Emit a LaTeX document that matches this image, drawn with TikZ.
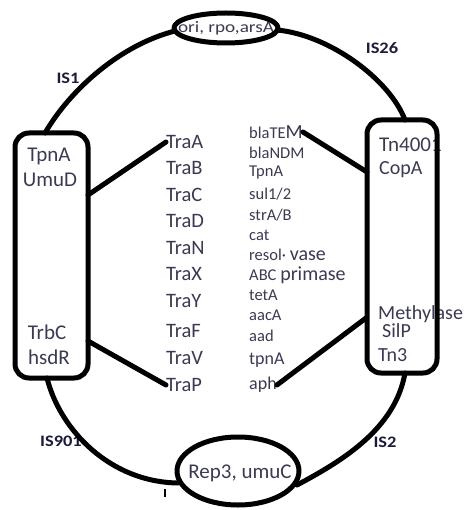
\documentclass[tikz,border=0pt]{standalone}
\usepackage{fontspec}
\setmainfont{Carlito}
\definecolor{txt}{HTML}{3A3A52}
\definecolor{lbl}{HTML}{1A1A3A}
\begin{document}
\begin{tikzpicture}[x=1pt,y=-1pt,
  line/.style={line width=5pt,line cap=round,line join=round},
  tra/.style={anchor=west,inner sep=0pt,text=txt,font=\fontsize{20.5}{20}\selectfont},
  gene/.style={anchor=west,inner sep=0pt,text=txt,font=\fontsize{16.5}{16}\selectfont},
  boxtxt/.style={inner sep=0pt,text=txt,font=\fontsize{21}{21}\selectfont},
  islbl/.style={inner sep=0pt,text=lbl,font=\bfseries\fontsize{16}{16}\selectfont,xscale=1.15},
  elltxt/.style={inner sep=0pt,text=txt}]
\useasboundingbox (0,0) rectangle (470,510);
% texts
\node[elltxt,font=\fontsize{16}{16}\selectfont,xscale=1.2] (ori) at (226,28) {ori, rpo,arsA};
\node[elltxt,font=\fontsize{21}{21}\selectfont] (rep) at (240,473) {Rep3, umuC};
\node[boxtxt] (tpnAL) at (49,156) {TpnA};
\node[boxtxt] (umuD) at (50,180) {UmuD};
\node[boxtxt] (trbC) at (47,332) {TrbC};
\node[boxtxt] (hsdR) at (49,357) {hsdR};
\node[boxtxt,anchor=west] (tn4001) at (379,145) {Tn4001};
\node[boxtxt,anchor=west,font=\fontsize{20}{20}\selectfont] (copA) at (379,170) {CopA};
\node[boxtxt,anchor=west,font=\fontsize{20}{20}\selectfont] (methyl) at (378,314) {Methylase};
\node[boxtxt,anchor=west,font=\fontsize{20}{20}\selectfont] (silP) at (382,331) {SilP};
\node[boxtxt,anchor=west,font=\fontsize{20}{20}\selectfont] (tn3) at (378,355) {Tn3};
% Tra column
\node[tra] (traA) at (166,142) {TraA};
\node[tra] (traB) at (166,168) {TraB};
\node[tra] (traC) at (166,195) {TraC};
\node[tra] (traD) at (166,221) {TraD};
\node[tra] (traN) at (166,248) {TraN};
\node[tra] (traX) at (166,274) {TraX};
\node[tra] (traY) at (166,301) {TraY};
\node[tra] (traF) at (166,331) {TraF};
\node[tra] (traV) at (166,358) {TraV};
\node[tra] (traP) at (166,385) {TraP};
% gene column
\node[gene] (blaTEM) at (249,132) {blaTE{\fontsize{20}{20}\selectfont M}};
\node[gene] (blaNDM) at (249,153) {blaNDM};
\node[gene] (tpnA) at (249,173) {TpnA};
\node[gene] (sul) at (249,194) {sul1/2};
\node[gene] (str) at (249,215) {strA/B};
\node[gene] (cat) at (249,235) {cat};
\node[gene] (resol) at (249,255) {resol· {\fontsize{20}{20}\selectfont vase}};
\node[gene] (abc) at (249,275) {ABC {\fontsize{20}{20}\selectfont primase}};
\node[gene] (tetA) at (249,295) {tetA};
\node[gene] (aacA) at (249,315) {aacA};
\node[gene] (aad) at (249,336) {aad};
\node[gene,font=\fontsize{18}{18}\selectfont] (tpnA2) at (249,360) {tpnA};
\node[gene,font=\fontsize{18}{18}\selectfont] (aph) at (249,385) {aph};
% IS labels
\node[islbl] (is1) at (68,78) {IS1};
\node[islbl] (is26) at (382,48) {IS26};
\node[islbl] (is901) at (61,441) {IS901};
\node[islbl] (is2) at (385,442) {IS2};
% shapes
\draw[line] (226,28) ellipse [x radius=52, y radius=15];
\draw[line] (238,471) ellipse [x radius=61, y radius=34];
\draw[line,rounded corners=14pt] (15,133) rectangle (88,378);
\draw[line,rounded corners=14pt] (367,120) rectangle (437,373);
\coordinate (lt) at (45,133);
\coordinate (lb) at (47,378);
\coordinate (rt) at (405,120);
\coordinate (rb) at (405,373);
\coordinate (ol) at (175,31);
\coordinate (or) at (277,30);
\coordinate (el) at (178,483);
\coordinate (er) at (297,485);
\draw[line] (lt) .. controls (70,90) and (120,45) .. (ol);
\draw[line] (or) .. controls (330,35) and (390,80) .. (rt);
\draw[line] (lb) .. controls (60,430) and (110,482) .. (el);
\draw[line] (rb) .. controls (395,430) and (340,462) .. (er);
\draw[line width=1.2pt] (165,489) -- (165,497);
% connectors
\coordinate (l1) at (88,195);
\coordinate (l2) at (88,341);
\coordinate (r1) at (367,172);
\coordinate (r2) at (366,318);
\draw[line] (l1) -- (traA.west);
\draw[line] (l2) -- (traP.west);
\draw[line] (blaTEM.east) -- (r1);
\draw[line] (aph.east) -- (r2);
\end{tikzpicture}
\end{document}
